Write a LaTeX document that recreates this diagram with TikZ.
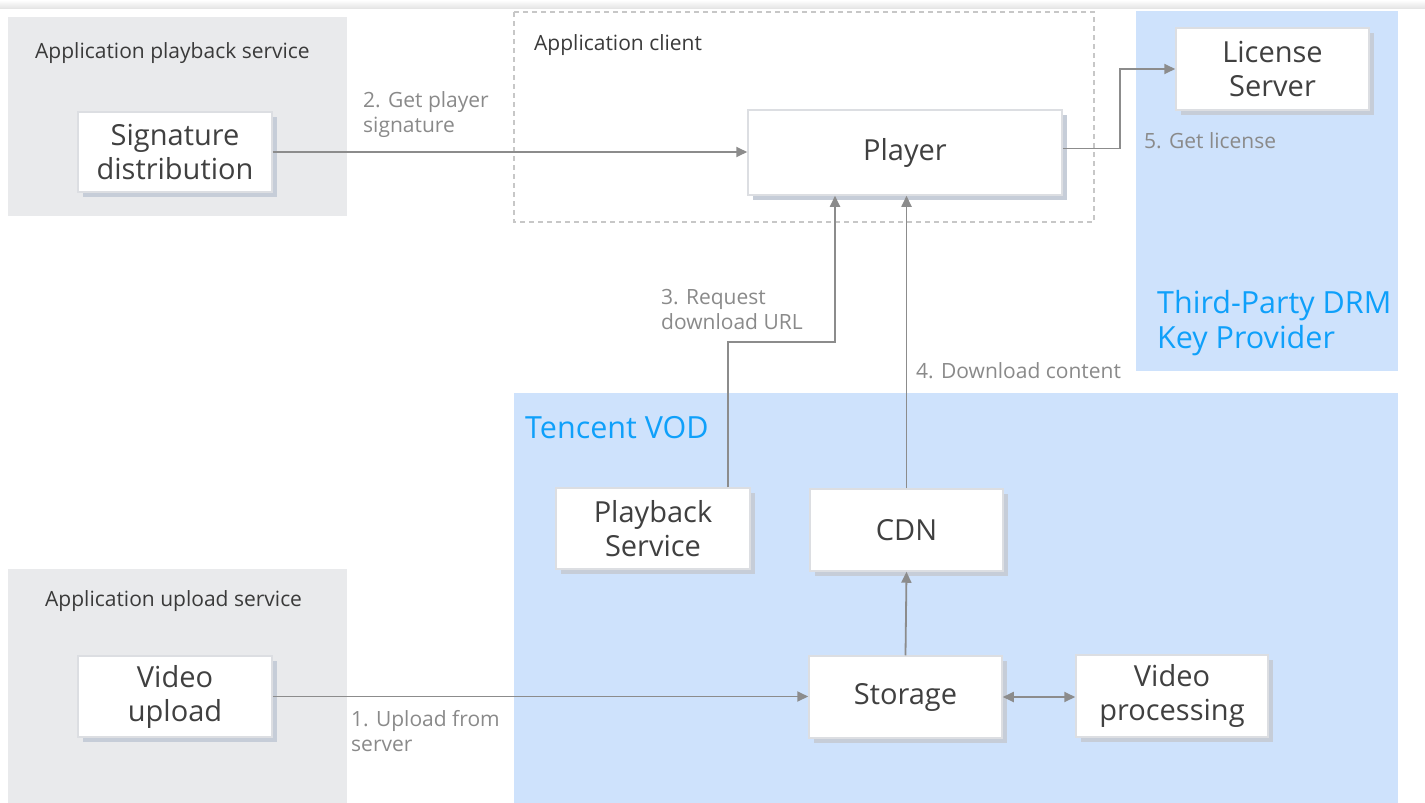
\documentclass[tikz,border=0pt]{standalone}
\usepackage{fontspec}
\setmainfont{Open Sans}
\usetikzlibrary{arrows.meta,shadows,calc}
\definecolor{grayzone}{HTML}{E9EAEC}
\definecolor{bluezone}{HTML}{CEE2FC}
\definecolor{titleblue}{HTML}{0FA0FA}
\definecolor{nodetext}{HTML}{404040}
\definecolor{labeltext}{HTML}{8A8A8A}
\definecolor{linegray}{HTML}{8C8C8C}
\definecolor{nodeborder}{HTML}{DCDEE2}
\definecolor{shadowcol}{HTML}{C6CDD8}
\tikzset{
  box/.style={rectangle, fill=white, draw=nodeborder, line width=1.5pt,
    drop shadow={shadow xshift=5pt, shadow yshift=-5pt, fill=shadowcol, opacity=1},
    text=nodetext, align=center, font=\fontsize{29}{34}\selectfont, inner sep=0pt},
  zone/.style={text=nodetext!90!black, font=\fontsize{21}{25}\selectfont, anchor=west, inner sep=0pt},
  bluetitle/.style={text=titleblue, font=\fontsize{30.5}{35}\selectfont, anchor=west, inner sep=0pt, align=left},
  lbl/.style={text=labeltext, font=\fontsize{21}{25}\selectfont, anchor=north west, inner sep=0pt, align=left},
  conn/.style={draw=linegray, line width=1.8pt, -{Triangle[length=11pt,width=10pt]}},
  conn2/.style={draw=linegray, line width=1.8pt, {Triangle[length=11pt,width=10pt]}-{Triangle[length=11pt,width=10pt]}},
}
\begin{document}
\begin{tikzpicture}[x=1pt,y=-1pt]
\useasboundingbox (0,0) rectangle (1425,803);
\fill[white] (0,0) rectangle (1425,803);
% top faint band
\shade[top color=white, bottom color=black!10] (0,0) rectangle (1425,8);
% zones
\fill[grayzone] (8,17) rectangle (347,216);
\fill[grayzone] (8,569) rectangle (347,803);
\fill[bluezone] (1136,11) rectangle (1398,371);
\fill[bluezone] (514,393) rectangle (1398,803);
\draw[black!22, line width=1.2pt, dash pattern=on 5pt off 4pt] (514,12) rectangle (1094,222);
% zone titles
\node[zone] (tplay) at (35,53) {Application playback service};
\node[zone] (tclient) at (534,45) {Application client};
\node[zone] (tup) at (45,601) {Application upload service};
\node[bluetitle] (tvod) at (525,428) {Tencent VOD};
\node[bluetitle, anchor=north west] (tdrm) at (1157,290) {Third-Party DRM\\Key Provider};
% nodes
\node[box, minimum width=194pt, minimum height=80pt] (sig) at (175,152) {Signature\\distribution};
\node[box, minimum width=314pt, minimum height=85pt] (player) at (905,152.5) {Player};
\node[box, minimum width=193pt, minimum height=82pt] (lic) at (1272.5,69) {License\\Server};
\node[box, minimum width=194pt, minimum height=81pt] (pb) at (653,528.5) {Playback\\Service};
\node[box, minimum width=193pt, minimum height=82pt] (cdn) at (906.5,530) {CDN};
\node[box, minimum width=193pt, minimum height=82pt] (st) at (905.5,697) {Storage};
\node[box, minimum width=192pt, minimum height=82pt] (vp) at (1172,696) {Video\\processing};
\node[box, minimum width=194pt, minimum height=81pt] (up) at (175,696.5) {Video\\upload};
% connectors
\draw[conn] (sig.east) -- (sig.east -| player.west);
\draw[conn] ($(player.east)+(0,-4)$) -- ++(57,0) |- (lic.west);
\draw[conn] ($(pb.north)+(75,0)$) -- ++(0,-145) -| ($(player.south)+(-70,0)$);
\draw[conn] (cdn.north) -- (cdn.north |- player.south);
\draw[conn] (st.north) -- (cdn.south);
\draw[conn] (up.east) -- (up.east -| st.west);
\draw[conn2] (st.east) -- (st.east -| vp.west);
% labels
\node[lbl] (l2) at (363,91) {2. Get player\\signature};
\node[lbl] (l3) at (661,289) {3. Request\\download URL};
\node[lbl] (l4) at (916,362) {4. Download content};
\node[lbl] (l5) at (1144,132) {5. Get license};
\node[lbl] (l1) at (351,710) {1. Upload from\\server};
\end{tikzpicture}
\end{document}
